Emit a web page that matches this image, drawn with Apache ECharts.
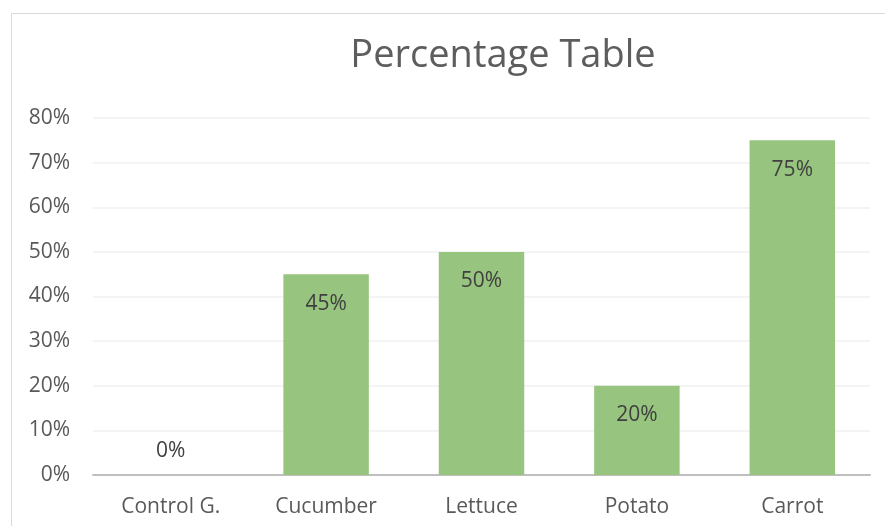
<!DOCTYPE html>
<html>
<head>
<meta charset="utf-8">
<script src="https://cdn.jsdelivr.net/npm/echarts@6/dist/echarts.min.js"></script>
<style>
  html, body { margin: 0; padding: 0; background: #fff; }
  #main { width: 885px; height: 526px; }
</style>
</head>
<body>
<div id="main"></div>
<script>
// chart data
var categories = ['Control G.', 'Cucumber', 'Lettuce', 'Potato', 'Carrot'];
var values = [0, 45, 50, 20, 75];
var yTicks = [0, 10, 20, 30, 40, 50, 60, 70, 80];

var fontName = '"Open Sans", "Noto Sans", sans-serif';

// zero bar gets its label above the axis, like the original
var barData = values.map(function (v) {
    if (v === 0) {
        return { value: v, label: { position: 'top', distance: 13 } };
    }
    return v;
});

var chart = echarts.init(document.getElementById('main'));
chart.setOption({
    animation: false,
    title: {
        text: 'Percentage Table',
        left: 498,
        textAlign: 'center',
        top: 32,
        textStyle: { fontFamily: fontName, fontSize: 38, fontWeight: 'normal', color: '#5d5d5d' }
    },
    graphic: [{
        type: 'rect',
        shape: { x: 11.5, y: 13.5, width: 900, height: 600 },
        style: { fill: 'none', stroke: '#d9d9d9', lineWidth: 1 },
        silent: true
    }],
    grid: { left: 93, right: 15, top: 118, bottom: 51 },
    xAxis: {
        type: 'category',
        data: categories,
        axisTick: { show: false },
        axisLine: { lineStyle: { color: '#bfbfbf', width: 2 } },
        axisLabel: { margin: 22, fontFamily: fontName, fontSize: 21, color: '#595959' }
    },
    yAxis: {
        type: 'value',
        min: yTicks[0],
        max: yTicks[yTicks.length - 1],
        interval: 10,
        axisLine: { show: false },
        axisTick: { show: false },
        splitLine: { lineStyle: { color: '#f0f0f0', width: 1.5 } },
        axisLabel: { margin: 23, fontFamily: fontName, fontSize: 21, color: '#595959', formatter: '{value}%' }
    },
    series: [{
        type: 'bar',
        data: barData,
        barWidth: '55%',
        itemStyle: { color: '#97c47e' },
        label: {
            show: true,
            position: 'insideTop',
            distance: 19,
            formatter: '{c}%',
            fontFamily: fontName,
            fontSize: 21,
            color: '#404040'
        }
    }]
});
</script>
</body>
</html>
